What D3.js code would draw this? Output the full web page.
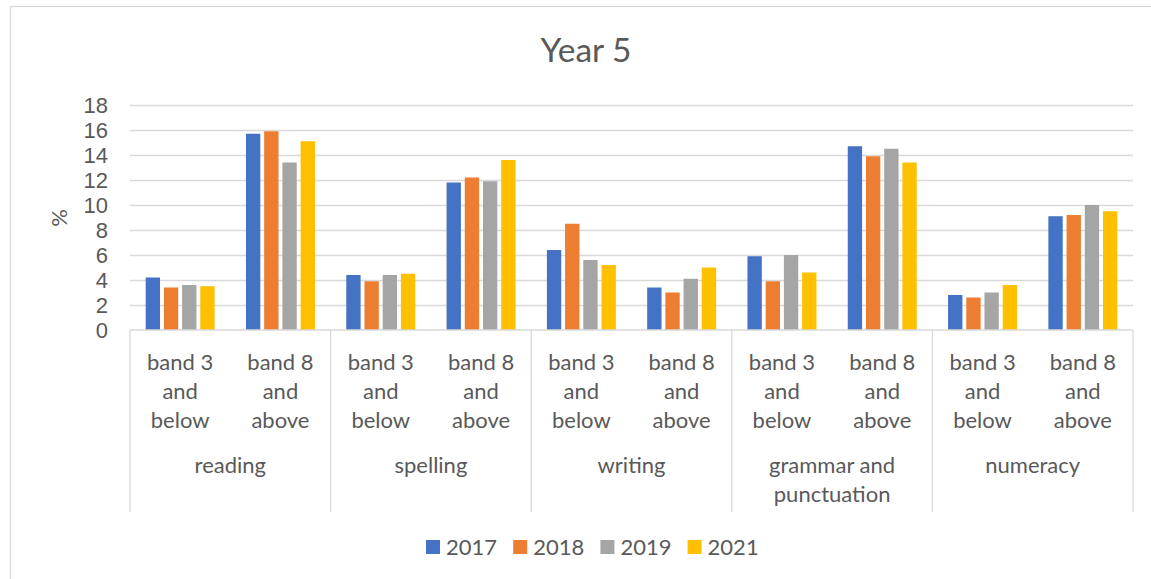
<!DOCTYPE html>
<html>
<head>
<meta charset="utf-8">
<script src="https://cdn.jsdelivr.net/npm/d3@7"></script>
<style>
    body { margin: 0; background: #fff; }
    svg { display: block; font-family: Lato, "Liberation Sans", sans-serif; }
    .y-axis .domain { display: none; }
    .y-axis line { stroke: #d9d9d9; stroke-width: 1.3; }
    .y-axis text { fill: #595959; font-size: 22px; }
</style>
</head>
<body>
<div id="chart"></div>
<script>
// chart data
const title = 'Year 5';
const groups = ['reading', 'spelling', 'writing', 'grammar and punctuation', 'numeracy'];
const bands = ['band 3 and below', 'band 8 and above'];
const years = ['2017', '2018', '2019', '2021'];
const colors = ['#4472C4', '#ED7D31', '#A5A5A5', '#FFC000'];
const yTicks = [0, 2, 4, 6, 8, 10, 12, 14, 16, 18];

// one array per year, ordered group by group, band 3 then band 8
const values2017 = [4.2, 15.7, 4.4, 11.8, 6.4, 3.4, 5.9, 14.7, 2.8, 9.1];
const values2018 = [3.4, 15.9, 3.9, 12.2, 8.5, 3.0, 3.9, 13.9, 2.6, 9.2];
const values2019 = [3.6, 13.4, 4.4, 11.9, 5.6, 4.1, 6.0, 14.5, 3.0, 10.0];
const values2021 = [3.5, 15.1, 4.5, 13.6, 5.2, 5.0, 4.6, 13.4, 3.6, 9.5];
const seriesValues = [values2017, values2018, values2019, values2021];

const width = 1151, height = 579;
const margin = {left: 130, top: 105, right: 18, bottom: 249};
const w = width - margin.left - margin.right;
const h = height - margin.top - margin.bottom;

const svg = d3.select('#chart').append('svg')
    .attr('width', width)
    .attr('height', height);

// outer chart border
svg.append('rect')
    .attr('x', 10.5).attr('y', 6.5)
    .attr('width', 1160).attr('height', 600)
    .attr('fill', 'none')
    .attr('stroke', '#d9d9d9')
    .attr('stroke-width', 1.3);

svg.append('text')
    .attr('x', 586).attr('y', 62)
    .attr('text-anchor', 'middle')
    .attr('fill', '#595959')
    .style('font-size', '33.5px')
    .text(title);

const g = svg.append('g')
    .attr('transform', `translate(${margin.left}, ${margin.top})`);

// scales
const slots = [];
groups.forEach(gr => bands.forEach(b => slots.push(gr + '|' + b)));

const xGroup = d3.scaleBand().domain(groups).range([0, w]);
const xSlot = d3.scaleBand().domain(slots).range([0, w]);
const xSeries = d3.scaleBand().domain(years)
    .range([0, xSlot.bandwidth()])
    .paddingInner(0.2126)
    .paddingOuter(0.86);
const yScale = d3.scaleLinear().domain([0, 18]).range([h, 0]);

// y axis + gridlines
g.append('g')
    .attr('class', 'y-axis')
    .call(d3.axisLeft(yScale).tickValues(yTicks).tickSize(-w).tickPadding(22))
    .call(a => a.selectAll('.tick line').filter(d => d === 0).remove());

svg.append('text')
    .attr('transform', 'translate(67, 218) rotate(-90)')
    .attr('text-anchor', 'middle')
    .attr('fill', '#595959')
    .style('font-size', '22px')
    .text('%');

// bars
years.forEach((yr, i) => {
    g.append('g')
        .attr('fill', colors[i])
        .selectAll('rect')
        .data(seriesValues[i])
        .join('rect')
        .attr('x', (d, j) => xSlot(slots[j]) + xSeries(yr))
        .attr('y', d => yScale(d))
        .attr('width', xSeries.bandwidth())
        .attr('height', d => h - yScale(d));
});

// category axis
const xAxis = g.append('g').attr('transform', `translate(0, ${h})`);
xAxis.append('line')
    .attr('x1', 0).attr('x2', w)
    .attr('stroke', '#d9d9d9').attr('stroke-width', 1.3);
xAxis.selectAll('.sep')
    .data(groups.map(gr => xGroup(gr)).concat([w]))
    .join('line')
    .attr('class', 'sep')
    .attr('x1', d => d).attr('x2', d => d)
    .attr('y1', 0).attr('y2', 182)
    .attr('stroke', '#d9d9d9').attr('stroke-width', 1.3);

function wrapText(sel, maxWidth, lineHeight) {
    sel.each(function() {
        const text = d3.select(this);
        const words = text.text().split(/\s+/);
        const x = text.attr('x');
        text.text(null);
        let line = [];
        let tspan = text.append('tspan').attr('x', x).attr('dy', 0);
        words.forEach(word => {
            line.push(word);
            tspan.text(line.join(' '));
            if (tspan.node().getComputedTextLength() > maxWidth && line.length > 1) {
                line.pop();
                tspan.text(line.join(' '));
                line = [word];
                tspan = text.append('tspan').attr('x', x).attr('dy', lineHeight).text(word);
            }
        });
    });
}

xAxis.selectAll('.band-label')
    .data(slots)
    .join('text')
    .attr('class', 'band-label')
    .attr('x', d => xSlot(d) + xSlot.bandwidth() / 2)
    .attr('y', 40)
    .attr('text-anchor', 'middle')
    .attr('fill', '#595959')
    .style('font-size', '22px')
    .text(d => d.split('|')[1])
    .call(wrapText, 84, 29);

xAxis.selectAll('.group-label')
    .data(groups)
    .join('text')
    .attr('class', 'group-label')
    .attr('x', d => xGroup(d) + xGroup.bandwidth() / 2)
    .attr('y', 143)
    .attr('text-anchor', 'middle')
    .attr('fill', '#595959')
    .style('font-size', '22px')
    .text(d => d)
    .call(wrapText, 178, 29);

// legend
const legend = svg.append('g')
    .attr('transform', 'translate(426, 540)');
const item = legend.selectAll('g')
    .data(years)
    .join('g')
    .attr('transform', (d, i) => `translate(${i * 87.2}, 0)`);
item.append('rect')
    .attr('width', 14).attr('height', 14)
    .attr('fill', (d, i) => colors[i]);
item.append('text')
    .attr('x', 20).attr('y', 15)
    .attr('fill', '#595959')
    .style('font-size', '22px')
    .text(d => d);
</script>
</body>
</html>
